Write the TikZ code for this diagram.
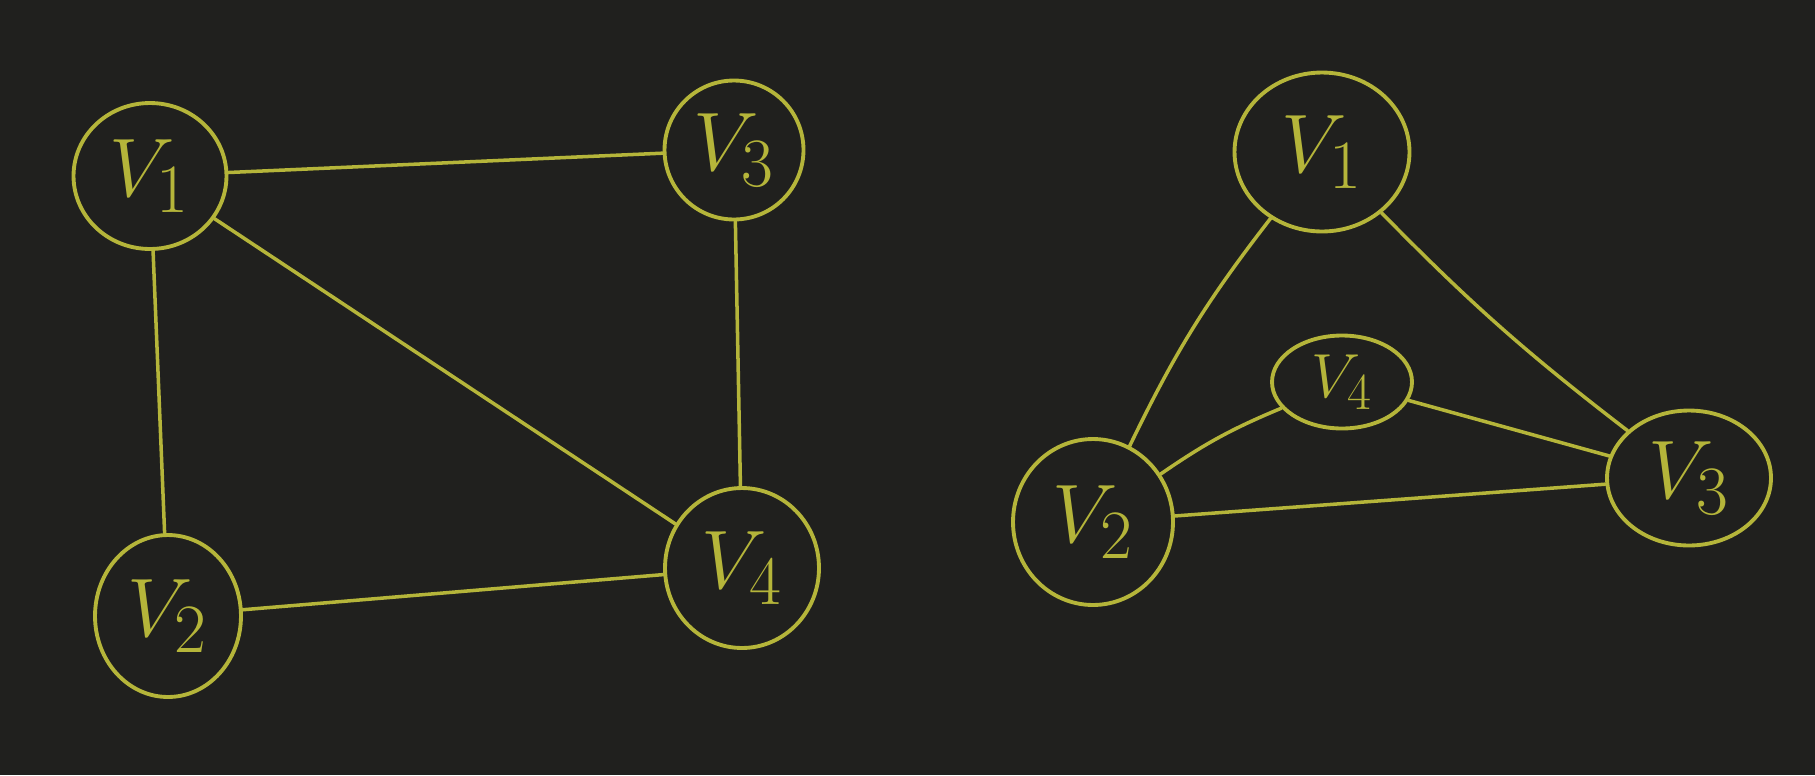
\documentclass[tikz,border=0pt]{standalone}
\usepackage{graphicx}
\usetikzlibrary{shapes.geometric}
\definecolor{board}{RGB}{32,32,30}
\definecolor{chalk}{RGB}{181,181,58}
\newcommand{\vlabel}[1]{\scalebox{1.9}{$V_{#1}$}}

\begin{document}
\begin{tikzpicture}[x=0.02cm,y=-0.02cm,
        vertex/.style={ellipse,draw=chalk,line width=2.2pt,text=chalk,inner sep=0pt,font=\Huge},
        edge/.style={draw=chalk,line width=2pt,line cap=round}]
        \fill[board] (0,0) rectangle (1815,775);
        \useasboundingbox (0,0) rectangle (1815,775);
        % left graph
        \node[vertex,minimum width=3.06cm,minimum height=2.92cm] (a1) at (150,176) {\vlabel{1}};
        \node[vertex,minimum width=2.78cm,minimum height=2.78cm] (a3) at (734,150) {\vlabel{3}};
        \node[vertex,minimum width=2.92cm,minimum height=3.24cm] (a2) at (168,616) {\vlabel{2}};
        \node[vertex,minimum width=3.08cm,minimum height=3.2cm] (a4) at (742,568) {\vlabel{4}};
        \draw[edge] (a1)--(a3);
        \draw[edge] (a1)--(a2);
        \draw[edge] (a1)--(a4);
        \draw[edge] (a3)--(a4);
        \draw[edge] (a2)--(a4);
        % right graph
        \node[vertex,minimum width=3.5cm,minimum height=3.18cm] (b1) at (1322,152) {\vlabel{1}};
        \node[vertex,minimum width=2.8cm,minimum height=1.86cm] (b4) at (1342,382) {\scalebox{0.75}{\vlabel{4}}};
        \node[vertex,minimum width=3.2cm,minimum height=3.32cm] (b2) at (1093,522) {\vlabel{2}};
        \node[vertex,minimum width=3.28cm,minimum height=2.7cm] (b3) at (1689,478) {\vlabel{3}};
        \draw[edge] (b1) to[bend right=6] (b2);
        \draw[edge] (b1) to[bend right=4] (b3);
        \draw[edge] (b4) to[bend right=6] (b2);
        \draw[edge] (b4)--(b3);
        \draw[edge] (b2)--(b3);
    \end{tikzpicture}
\end{document}
